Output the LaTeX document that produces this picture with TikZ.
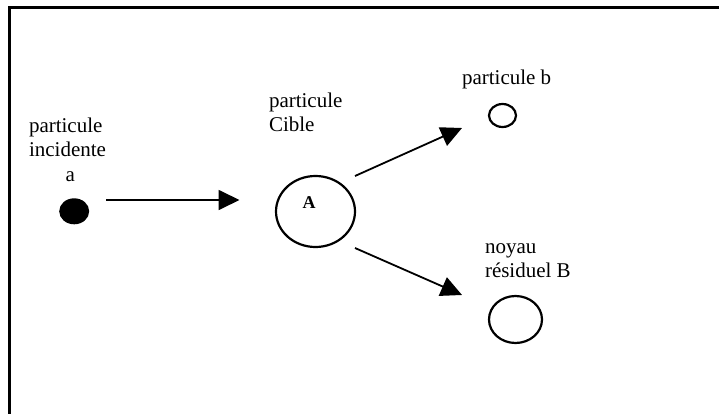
\documentclass[tikz,border=0pt]{standalone}
\usepackage{fontspec}
\setmainfont{Liberation Serif}
\usetikzlibrary{arrows.meta,shapes.geometric}
\begin{document}
\begin{tikzpicture}[x=1pt,y=-1pt,
  lbl/.style={inner sep=0pt,outer sep=0pt,align=left,font=\fontsize{21}{24}\selectfont},
  ring/.style={ellipse,draw,line width=2.2pt,inner sep=0pt,outer sep=0pt},
  arr/.style={line width=1.8pt,-{Triangle[length=21pt,width=20pt]}}]
\useasboundingbox (0,0) rectangle (719,414);
\fill[white] (0,0) rectangle (719,414);
\draw[line width=3pt] (9.8,430) -- (9.8,7.5) -- (730,7.5);
% particles
\node[ellipse,fill=black,inner sep=0pt,minimum width=30pt,minimum height=26pt] (a) at (74.2,211.3) {};
\node[ring,minimum width=79pt,minimum height=71pt] (A) at (315.5,211.5) {};
\node[inner sep=0pt,font=\fontsize{18}{18}\selectfont\bfseries,anchor=base] (Alab) at (309,208.5) {A};
\node[ring,minimum width=27pt,minimum height=23pt] (b) at (502.5,115.5) {};
\node[ring,minimum width=53pt,minimum height=47pt] (B) at (515.5,319.5) {};
% labels
\node[lbl,anchor=base west] (la1) at (29,133) {particule};
\node[lbl,anchor=base west] (la2) at (29,157) {incidente};
\node[lbl,anchor=base west] (la3) at (65.5,181) {a};
\node[lbl,anchor=base west] (lA1) at (269,108) {particule};
\node[lbl,anchor=base west] (lA2) at (269,132) {Cible};
\node[lbl,anchor=base west] (lb) at (462,85) {particule b};
\node[lbl,anchor=base west] (lB1) at (485,253) {noyau};
\node[lbl,anchor=base west] (lB2) at (485,277) {résiduel B};
% arrow ends
\coordinate (a1) at (106,200);
\coordinate (A1) at (239.5,200);
\coordinate (A2) at (355,176);
\coordinate (b1) at (462,128);
\coordinate (A3) at (355,248);
\coordinate (B1) at (462,295);
\draw[arr] (a1) -- (A1);
\draw[arr] (A2) -- (b1);
\draw[arr] (A3) -- (B1);
\end{tikzpicture}
\end{document}
